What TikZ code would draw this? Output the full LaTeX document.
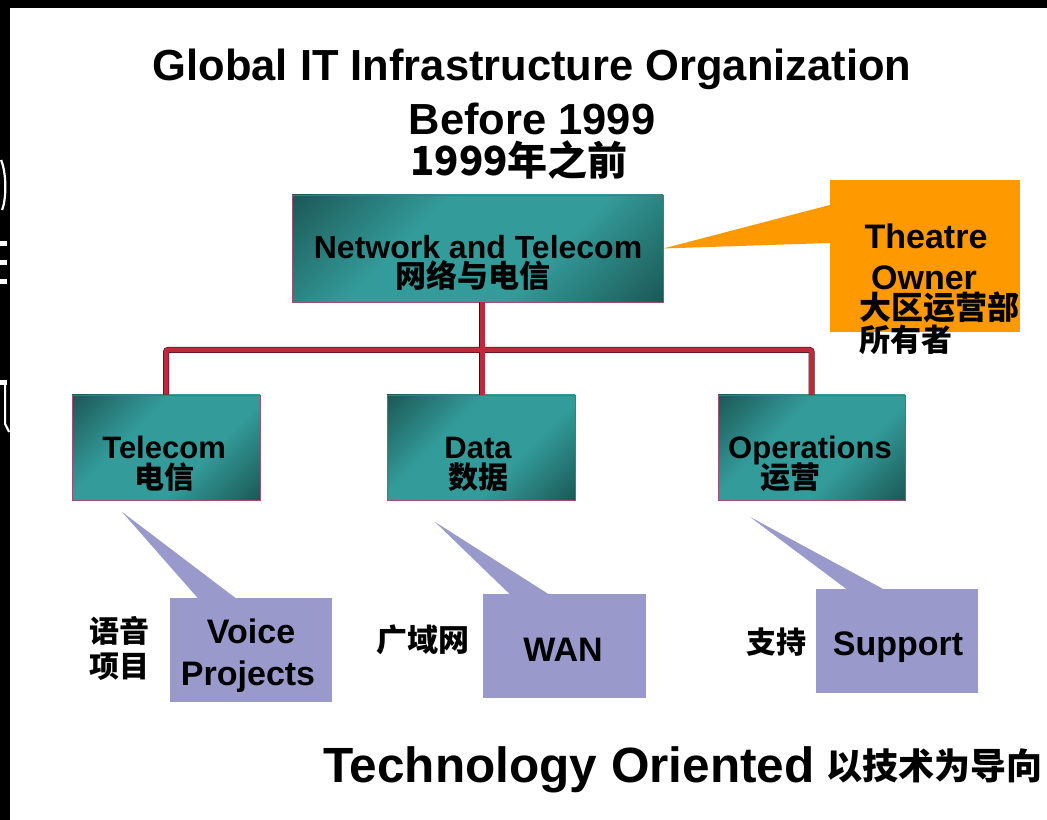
\documentclass[tikz,border=0pt]{standalone}
\usepackage{fontspec}
\setmainfont{Liberation Sans}
\newfontfamily\cjk{Noto Sans CJK SC}
\usetikzlibrary{positioning}

\definecolor{tealmid}{HTML}{339B99}
\definecolor{tealdark}{HTML}{0C2E2C}
\definecolor{boxedge}{HTML}{A0506A}
\definecolor{busred}{HTML}{C0283C}
\definecolor{busdark}{HTML}{3A1016}
\definecolor{owner}{HTML}{FF9900}
\definecolor{tagfill}{HTML}{9999CC}

\pgfdeclareverticalshading{unitshade}{100bp}{color(0bp)=(tealdark); color(38bp)=(tealmid); color(62bp)=(tealmid); color(100bp)=(tealdark)}

\begin{document}
\begin{tikzpicture}[x=1pt,y=-1pt,
  unit/.style={draw=boxedge, line width=0.8pt, shading=unitshade, shading angle=45, inner sep=0pt},
  tag/.style={fill=tagfill, inner sep=0pt},
  en/.style={font=\bfseries\fontsize{31}{31}\selectfont, anchor=base, inner sep=0pt},
  entag/.style={font=\bfseries\fontsize{34}{34}\selectfont, anchor=base, inner sep=0pt},
  zh/.style={font=\cjk\bfseries\fontsize{30}{30}\selectfont, anchor=base, inner sep=0pt},
  bus/.style={line width=5pt, busred, rounded corners=2pt}]

  % page and black frame
  \fill[white] (0,0) rectangle (1047,820);
  \fill[black] (0,0) rectangle (1047,8);
  \fill[black] (0,0) rectangle (10,820);
  \draw[white, line width=2.2pt] (1,160) .. controls (7,175) and (6,200) .. (2,210);
  \foreach \yy in {244,263,282}
    \fill[white] (0,\yy-2.5) rectangle (7,\yy+2.5);
  \fill[white] (0,380) rectangle (7,385);
  \draw[white, line width=2.2pt] (5,385) -- (5,424) -- (9,432);

  % titles
  \node[font=\bfseries\fontsize{43.5}{43.5}\selectfont, anchor=base] (title) at (532,81) {Global IT Infrastructure Organization};
  \node[font=\bfseries\fontsize{43.5}{43.5}\selectfont, anchor=base] (before) at (532,135) {Before 1999};
  \node[font=\cjk\bfseries\fontsize{40}{40}\selectfont, anchor=base] (beforezh) at (519,176) {1999年之前};

  % boxes
  \node[unit, minimum width=371, minimum height=107] (net) at (477.5,248.5) {};
  \node[unit, minimum width=188, minimum height=105] (tel) at (166,447.5) {};
  \node[unit, minimum width=188, minimum height=105] (data) at (481,447.5) {};
  \node[unit, minimum width=187, minimum height=105] (ops) at (811.5,447.5) {};

  \node[en, font=\bfseries\fontsize{32}{32}\selectfont] (netlbl) at (478,259) {Network and Telecom};
  \node[zh, font=\cjk\bfseries\fontsize{31}{31}\selectfont] (netzh) at (473,288) {网络与电信};
  \node[en] (tellbl) at (164,459) {Telecom};
  \node[zh] (telzh) at (164,489) {电信};
  \node[en] (datalbl) at (478,459) {Data};
  \node[zh] (datazh) at (478,489) {数据};
  \node[en] (opslbl) at (810,459) {Operations};
  \node[zh] (opszh) at (790,489) {运营};

  % connectors
  \coordinate (busmid) at (482,350);
  \draw[bus, busdark, line width=6pt, shift={(1.2,1.2)}] (tel.north) |- (busmid) -| (ops.north);
  \draw[bus, busdark, line width=6pt, shift={(1.2,0)}] (busmid |- net.south) -- (busmid |- data.north);
  \draw[bus] (tel.north) |- (busmid) -| (ops.north);
  \draw[bus] (busmid |- net.south) -- (busmid |- data.north);

  % theatre owner callout
  \node[fill=owner, minimum width=190, minimum height=152, inner sep=0pt] (owner) at (925,256) {};
  \fill[owner] (net.east) -- (owner.north west |- 0,205) -- (owner.north west |- 0,243) -- cycle;
  \node[entag] (ownerl1) at (926,249) {Theatre};
  \node[entag] (ownerl2) at (924,290) {Owner};
  \node[zh, font=\cjk\bfseries\fontsize{32}{32}\selectfont, anchor=base west] (ownerzh1) at (859,320) {大区运营部};
  \node[zh, font=\cjk\bfseries\fontsize{31}{31}\selectfont, anchor=base west] (ownerzh2) at (859,352) {所有者};

  % tags under boxes
  \node[tag, minimum width=162, minimum height=104] (voice) at (250.5,650) {};
  \node[tag, minimum width=163, minimum height=104] (wan) at (564.5,646) {};
  \node[tag, minimum width=162, minimum height=104] (support) at (897,641) {};
  \coordinate (voicetip) at (122,512);
  \coordinate (wantip) at (435,522);
  \coordinate (supporttip) at (750,517);
  \fill[tagfill] (voicetip) -- (198,598.5) -- (236,598.5) -- cycle;
  \fill[tagfill] (wantip) -- (510,594.5) -- (549,594.5) -- cycle;
  \fill[tagfill] (supporttip) -- (847,589.5) -- (884,589.5) -- cycle;

  \node[entag] (voicel1) at (251,644) {Voice};
  \node[entag] (voicel2) at (248,686) {Projects};
  \node[entag] (wanl) at (563,662) {WAN};
  \node[entag] (supportl) at (898,656) {Support};
  \node[zh, anchor=base west] (voicezh1) at (89,643) {语音};
  \node[zh, anchor=base west] (voicezh2) at (89,678) {项目};
  \node[zh, font=\cjk\bfseries\fontsize{31}{31}\selectfont, anchor=base west] (wanzh) at (376,652) {广域网};
  \node[zh, anchor=base west] (supportzh) at (746,654) {支持};

  % footer
  \node[font=\bfseries\fontsize{49.5}{49.5}\selectfont, anchor=base west, inner sep=0pt] (footer) at (323,783) {Technology Oriented};
  \node[font=\cjk\bfseries\fontsize{36}{36}\selectfont, anchor=base west, inner sep=0pt] (footerzh) at (826,780) {以技术为导向};
\end{tikzpicture}
\end{document}
